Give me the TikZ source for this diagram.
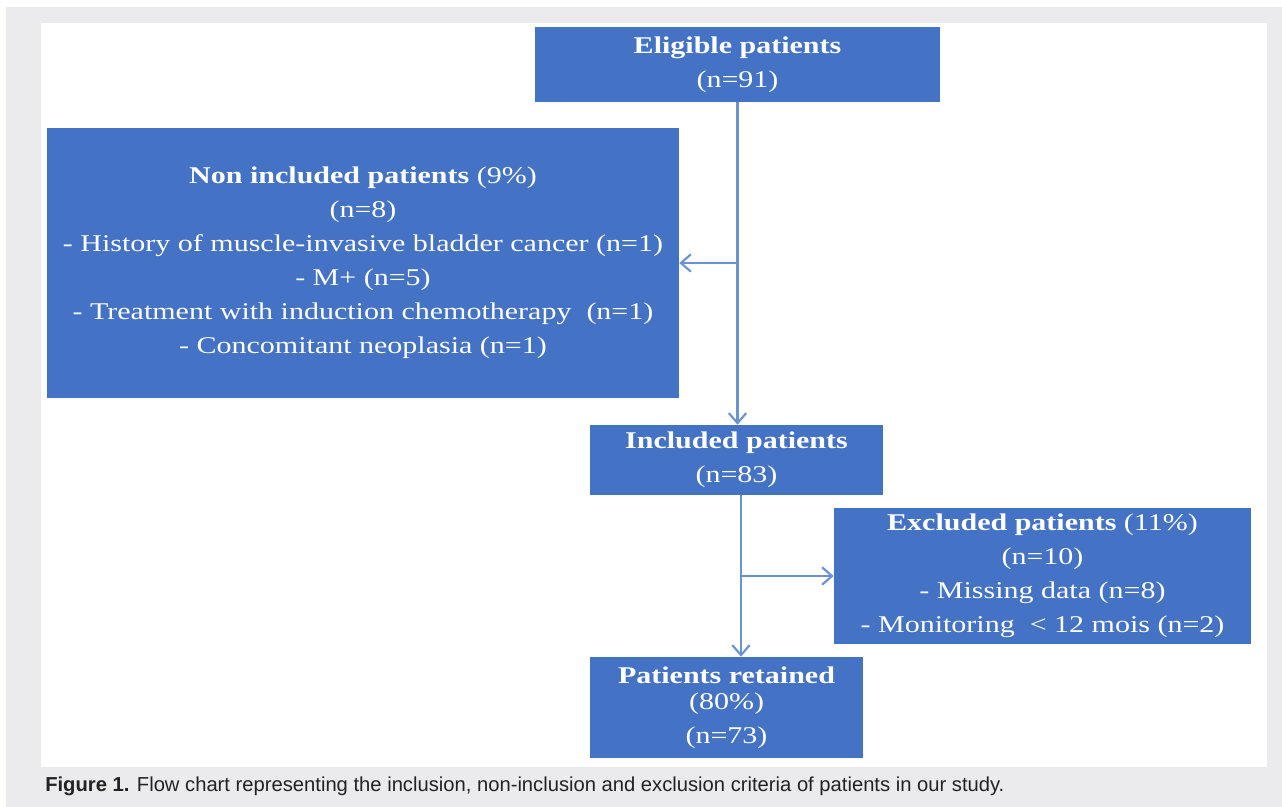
\documentclass[tikz,border=0pt]{standalone}
\usepackage{fontspec}
\setmainfont[FakeStretch=1.25]{Liberation Serif}
\newfontfamily\capfont{Liberation Sans}
\usetikzlibrary{arrows.meta}
\definecolor{boxblue}{HTML}{4472C4}
\definecolor{linkblue}{HTML}{6A93D4}
\definecolor{framegray}{HTML}{EBEBED}
\definecolor{captext}{HTML}{222222}
\begin{document}
\begin{tikzpicture}[x=0.75pt,y=-0.75pt,
  pbox/.style 2 args={fill=boxblue, draw=none, text=white, inner sep=0pt,
    minimum width={#1*0.75pt}, minimum height={#2*0.75pt}, align=center,
    font=\fontsize{18}{25.5}\selectfont},
  arrowline/.style={draw=linkblue, line width=1.6pt,
    -{Straight Barb[length=7.5pt,width=13pt,line width=1.6pt]}}]
\useasboundingbox (0,0) rectangle (1282,807);
\fill[white] (0,0) rectangle (1282,807);
\fill[framegray] (6,7) rectangle (1282,807);
\fill[white] (41,23) rectangle (1267,767);

\node[pbox={405}{75}] (elig) at (737.5,64.5) {{\bfseries Eligible patients}\\(n=91)};
\node[pbox={632}{270}] (nonin) at (363,263) {{\bfseries Non included patients} (9\%)\\(n=8)\\- History of muscle-invasive bladder cancer (n=1)\\- M+ (n=5)\\- Treatment with induction chemotherapy \ (n=1)\\- Concomitant neoplasia (n=1)};
\node[pbox={293}{70}] (incl) at (736.5,460) {{\bfseries Included patients}\\(n=83)};
\node[pbox={417}{136}] (excl) at (1042.5,576) {{\bfseries Excluded patients} (11\%)\\(n=10)\\- Missing data (n=8)\\- Monitoring \ \textless\ 12 mois (n=2)};
\node[pbox={273}{101}] (ret) at (726.5,707.5) {{\bfseries Patients retained}\\[-6pt](80\%)\\(n=73)};

\coordinate (ux) at (737.5,0);
\coordinate (lx) at (741,0);
\draw[arrowline] (elig.south) -- (ux |- incl.north);
\draw[arrowline] (ux |- nonin.east) -- (nonin.east);
\draw[arrowline] (lx |- incl.south) -- (lx |- ret.north);
\draw[arrowline] (lx |- excl.west) -- (excl.west);

\node[anchor=base west, inner sep=0pt, text=captext, font=\capfont\fontsize{15.15}{18}\selectfont] (cap) at (45,791) {\textbf{Figure 1.} Flow chart representing the inclusion, non-inclusion and exclusion criteria of patients in our study.};
\end{tikzpicture}
\end{document}
